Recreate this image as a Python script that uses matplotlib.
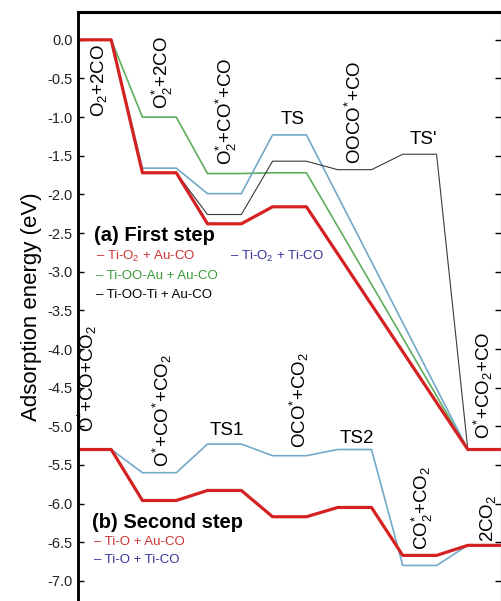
import numpy as np
import matplotlib
matplotlib.use("Agg")
import matplotlib.pyplot as plt

plt.rcParams['font.family'] = ['Liberation Sans', 'DejaVu Sans']
plt.rcParams['mathtext.fontset'] = 'custom'
plt.rcParams['mathtext.rm'] = 'Liberation Sans'
plt.rcParams['mathtext.it'] = 'Liberation Sans:italic'
plt.rcParams['axes.unicode_minus'] = False

# (a) first step: energy of each state, None = path skips that state
step1_labels = [r'O$_\mathregular{2}$+2CO',
                r'O$_\mathregular{2}^\mathregular{*}$+2CO',
                r'O$_\mathregular{2}^\mathregular{*}$+CO$^\mathregular{*}$+CO',
                'TS',
                r'OOCO$^\mathregular{*}$+CO',
                "TS'",
                r'O$^\mathregular{*}$+CO$_\mathregular{2}$+CO']
ti_o2_au_co = [0.0, -1.72, -2.38, -2.16, None, None, -5.30]
ti_o2_ti_co = [0.0, -1.66, -1.99, -1.23, None, None, -5.30]
ti_ooau_au_co = [0.0, -1.00, -1.73, -1.72, None, None, -5.30]
ti_ooti_au_co = [0.0, -1.72, -2.26, -1.57, -1.68, -1.48, -5.30]

# (b) second step
step2_labels = [r'O$^\mathregular{*}$+CO+CO$_\mathregular{2}$',
                r'O$^\mathregular{*}$+CO$^\mathregular{*}$+CO$_\mathregular{2}$',
                'TS1',
                r'OCO$^\mathregular{*}$+CO$_\mathregular{2}$',
                'TS2',
                r'CO$_\mathregular{2}^\mathregular{*}$+CO$_\mathregular{2}$',
                r'2CO$_\mathregular{2}$']
ti_o_au_co = [-5.30, -5.96, -5.83, -6.17, -6.05, -6.67, -6.54]
ti_o_ti_co = [-5.30, -5.60, -5.23, -5.38, -5.30, -6.80, -6.54]

RED = '#d42222'
CYAN = '#72a9c9'
GREEN = '#5cae5c'
DARK = '#3a3a3a'


def level_path(values, half=0.26):
    # each state is a short flat level, joined by straight segments
    xs, ys = [], []
    for i, v in enumerate(values):
        if v is None:
            continue
        xs += [i - half, i + half]
        ys += [v, v]
    return xs, ys


fig = plt.figure(figsize=(5.02, 6.01), dpi=100)
ax = fig.add_axes([78 / 502, 0, 423 / 502, 589 / 601])

ax.plot(*level_path(ti_ooau_au_co), color=GREEN, lw=1.2)
ax.plot(*level_path(ti_o2_ti_co), color=CYAN, lw=1.2)
ax.plot(*level_path(ti_ooti_au_co), color=DARK, lw=0.8)
ax.plot(*level_path(ti_o2_au_co), color=RED, lw=2.3)

ax.plot(*level_path(ti_o_ti_co), color=CYAN, lw=1.2)
ax.plot(*level_path(ti_o_au_co), color=RED, lw=2.3)

# state labels (x, bottom y)
fs = 13.5
step1_pos = [(0.08, -1.0), (1.05, -0.9), (2.03, -1.62), (3.05, -1.03),
             (4.0, -1.6), (5.05, -1.29), (5.98, -5.17)]
for lab, (x, y) in zip(step1_labels, step1_pos):
    if lab.startswith('TS'):
        ax.text(x, y, lab, fontsize=fs, ha='center', va='center')
    else:
        ax.text(x, y, lab, fontsize=fs, rotation=90, ha='center', va='bottom')

step2_pos = [(-0.1, -5.08), (1.05, -5.52), (2.03, -5.05), (3.15, -5.28),
             (4.03, -5.16), (5.05, -6.6), (6.05, -6.5)]
for lab, (x, y) in zip(step2_labels, step2_pos):
    if lab.startswith('TS'):
        ax.text(x, y, lab, fontsize=fs, ha='center', va='center')
    else:
        ax.text(x, y, lab, fontsize=fs, rotation=90, ha='center', va='bottom')

# hand made legends
ax.text(0.0, -2.53, '(a) First step', fontsize=14.5, fontweight='bold', va='center')
ax.text(0.03, -2.80, r'– Ti-O$_\mathregular{2}$ + Au-CO', fontsize=9.5, color='#cc3333', va='center')
ax.text(2.09, -2.80, r'– Ti-O$_\mathregular{2}$ + Ti-CO', fontsize=9.5, color='#33339a', va='center')
ax.text(0.03, -3.05, '– Ti-OO-Au + Au-CO', fontsize=9.5, color='#3a9a3a', va='center')
ax.text(0.03, -3.30, '– Ti-OO-Ti + Au-CO', fontsize=9.5, color='black', va='center')

ax.text(-0.03, -6.25, '(b) Second step', fontsize=14.5, fontweight='bold', va='center')
ax.text(0.0, -6.50, '– Ti-O + Au-CO', fontsize=9.5, color='#cc3333', va='center')
ax.text(0.0, -6.73, '– Ti-O + Ti-CO', fontsize=9.5, color='#33339a', va='center')

ax.set_xlim(-0.25, 6.25)
ax.set_ylim(-7.26, 0.36)
yt = np.arange(0.0, -7.01, -0.5)
ax.set_yticks(yt)
ax.set_yticklabels(['%.1f' % t for t in yt], fontsize=10.5, color='#222222')
ax.set_xticks([])
ax.tick_params(axis='y', direction='in', length=4, width=1, pad=4)
ax.set_ylabel('Adsorption energy (eV)', fontsize=16, labelpad=4)

ax_r = ax.twinx()
ax_r.set_ylim(ax.get_ylim())
ax_r.set_yticks(yt)
ax_r.tick_params(axis='y', direction='in', length=4, width=1, labelright=False)

for a in (ax, ax_r):
    a.spines['bottom'].set_visible(False)
    a.spines['left'].set_linewidth(1.8)
    a.spines['top'].set_linewidth(2.2)
    a.spines['right'].set_linewidth(0.8)
    a.spines['right'].set_color('#888888')

fig.savefig('out.png', dpi=100)
